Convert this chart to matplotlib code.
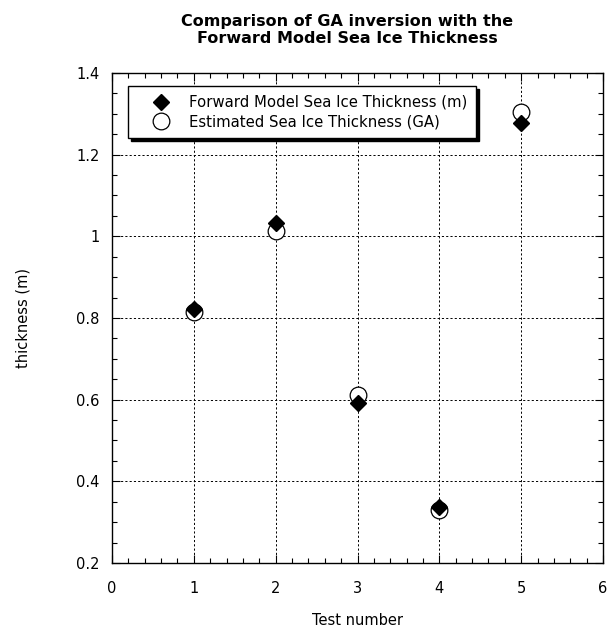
import matplotlib
matplotlib.use("Agg")
import matplotlib.pyplot as plt
from matplotlib.ticker import MultipleLocator

plt.rcParams['font.family'] = ['DejaVu Sans']

tests = [1, 2, 3, 4, 5]
forward_thickness = [0.822, 1.032, 0.592, 0.338, 1.278]
estimated_thickness = [0.815, 1.012, 0.612, 0.330, 1.305]
ytick_vals = [0.2, 0.4, 0.6, 0.8, 1.0, 1.2, 1.4]
ytick_labels = ['0.2', '0.4', '0.6', '0.8', '1', '1.2', '1.4']

fig = plt.figure(figsize=(6.07, 6.33), dpi=100)
ax = fig.add_axes([112/607, 70/633, 491/607, 490/633])

h_est, = ax.plot(tests, estimated_thickness, linestyle='none', marker='o',
                 markersize=12, markerfacecolor='white', markeredgecolor='black',
                 markeredgewidth=0.9, zorder=3, label='Estimated Sea Ice Thickness (GA)')
h_fwd, = ax.plot(tests, forward_thickness, linestyle='none', marker='D',
                 markersize=8.5, markerfacecolor='black', markeredgecolor='black',
                 zorder=4, label='Forward Model Sea Ice Thickness (m)')

ax.set_xlim(0, 6)
ax.set_ylim(0.2, 1.4)
ax.xaxis.set_major_locator(MultipleLocator(1))
ax.xaxis.set_minor_locator(MultipleLocator(0.2))
ax.yaxis.set_minor_locator(MultipleLocator(0.05))
ax.set_yticks(ytick_vals)
ax.set_yticklabels(ytick_labels)
ax.tick_params(which='both', direction='in', top=True, right=True, labelsize=10.5, colors='black')
ax.tick_params(which='major', length=6, width=0.8)
ax.tick_params(which='minor', length=3.5, width=0.8)
ax.tick_params(axis='x', pad=13.3)
ax.tick_params(axis='y', pad=9)
ax.grid(True, which='major', linestyle=(0, (2.2, 2.2)), color='black', linewidth=0.7)
ax.set_axisbelow(True)
for s in ax.spines.values():
    s.set_linewidth(1.0)

ax.set_xlabel('Test number', fontsize=10.5)
ax.set_ylabel('thickness (m)', fontsize=10.5)
ax.xaxis.set_label_coords(0.5, -0.102)
ax.yaxis.set_label_coords(-0.167, 0.5)

fig.text(347/607, 1 - 14/633, 'Comparison of GA inversion with the\nForward Model Sea Ice Thickness',
         ha='center', va='top', multialignment='center',
         fontsize=11.5, fontweight='bold', linespacing=1.2)

leg = ax.legend(handles=[h_fwd, h_est], loc='upper left',
                bbox_to_anchor=(16/491, 1 - 13/490), borderaxespad=0,
                fancybox=False, shadow={'color': 'black', 'alpha': 1},
                framealpha=1, edgecolor='black', fontsize=10.7,
                borderpad=0.6, handletextpad=0.3, labelspacing=0.3,
                handlelength=3.2)
leg.get_frame().set_linewidth(1.0)

fig.savefig('out.png', dpi=100)
